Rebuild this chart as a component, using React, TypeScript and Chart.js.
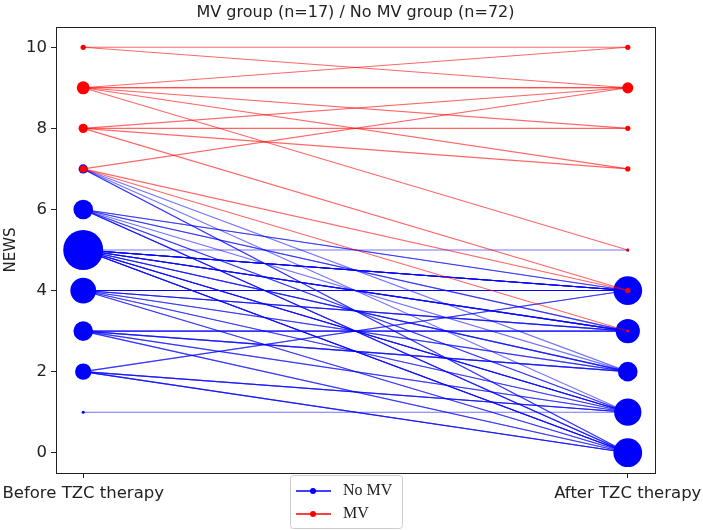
import React, { useEffect, useRef } from "react";
import { Chart, registerables } from "chart.js";
Chart.register(...registerables);

const TITLE = "MV group (n=17) / No MV group (n=72)";
const Y_LABEL = "NEWS";
const X_CATEGORIES = ["Before TZC therapy", "After TZC therapy"];
const Y_TICKS = [0, 2, 4, 6, 8, 10];
const GROUP_LABELS = ["No MV", "MV"];

// No MV group: score before -> score after, number of patients
const NO_MV_BEFORE = [7, 7, 7, 6, 6, 6, 6, 6, 5, 5, 5, 5, 5, 5, 4, 4, 4, 4, 4, 3, 3, 3, 3, 2, 2, 2, 1];
const NO_MV_AFTER = [2, 1, 0, 4, 3, 2, 1, 0, 5, 4, 3, 2, 1, 0, 4, 3, 2, 1, 0, 3, 2, 1, 0, 4, 1, 0, 1];
const NO_MV_COUNT = [1, 1, 2, 2, 2, 1, 2, 3, 1, 7, 5, 3, 4, 4, 5, 3, 2, 2, 2, 3, 3, 2, 2, 2, 3, 3, 1];

// MV group
const MV_BEFORE = [10, 10, 9, 9, 9, 9, 9, 8, 8, 8, 8, 7, 7, 7];
const MV_AFTER = [10, 9, 10, 9, 8, 7, 5, 9, 8, 7, 4, 9, 4, 3];
const MV_COUNT = [1, 1, 1, 2, 1, 1, 1, 1, 1, 1, 1, 1, 1, 1];

const BLUE_LINE = "rgba(0,0,255,0.55)";
const RED_LINE = "rgba(255,0,0,0.6)";
const BLUE = "#0000ff";
const RED = "#ff0000";
const FONT = "'DejaVu Sans', sans-serif";

function markerRadius(c: number) {
  return 1.5 * Math.pow(c, 0.815);
}

function buildGroup(before: number[], after: number[], count: number[], lineColor: string, color: string, lineOrder: number, markerOrder: number) {
  const sets: any[] = [];
  for (let i = 0; i < before.length; i++) {
    for (let k = 0; k < count[i]; k++) {
      sets.push({
        type: "line",
        data: [
          { x: 0, y: before[i] },
          { x: 1, y: after[i] },
        ],
        borderColor: lineColor,
        borderWidth: 1.1,
        pointRadius: 0,
        pointHoverRadius: 0,
        fill: false,
        order: lineOrder,
      });
    }
  }
  const tally: Record<string, number> = {};
  for (let i = 0; i < before.length; i++) {
    const a = "0|" + before[i];
    const b = "1|" + after[i];
    tally[a] = (tally[a] || 0) + count[i];
    tally[b] = (tally[b] || 0) + count[i];
  }
  const pts: { x: number; y: number }[] = [];
  const radii: number[] = [];
  Object.keys(tally).forEach((key) => {
    const [side, score] = key.split("|").map(Number);
    pts.push({ x: side, y: score });
    radii.push(markerRadius(tally[key]));
  });
  sets.push({
    type: "scatter",
    data: pts,
    backgroundColor: color,
    borderColor: color,
    borderWidth: 0,
    pointRadius: radii,
    pointHoverRadius: radii,
    order: markerOrder,
  });
  return sets;
}

const framePlugin = {
  id: "frame",
  afterDraw(chart: any) {
    const { ctx, chartArea } = chart;
    ctx.save();
    ctx.strokeStyle = "#222";
    ctx.lineWidth = 1;
    ctx.strokeRect(
      Math.round(chartArea.left) + 0.5,
      Math.round(chartArea.top) + 0.5,
      Math.round(chartArea.right - chartArea.left),
      Math.round(chartArea.bottom - chartArea.top)
    );
    // title centred over the plotting area
    ctx.fillStyle = "#222";
    ctx.font = "16px " + FONT;
    ctx.textAlign = "center";
    ctx.textBaseline = "middle";
    ctx.fillText(TITLE, (chartArea.left + chartArea.right) / 2, 12.5);
    ctx.restore();
  },
};

const legendPlugin = {
  id: "boxLegend",
  afterDraw(chart: any) {
    const { ctx } = chart;
    const x = 290, y = 475, w = 112, h = 53;
    ctx.save();
    ctx.fillStyle = "rgba(255,255,255,0.85)";
    ctx.strokeStyle = "#cccccc";
    ctx.lineWidth = 1;
    ctx.beginPath();
    (ctx as any).roundRect(x + 0.5, y + 0.5, w, h, 3);
    ctx.fill();
    ctx.stroke();
    const colors = [BLUE, RED];
    const ys = [491, 514];
    GROUP_LABELS.forEach((label, i) => {
      ctx.strokeStyle = colors[i];
      ctx.lineWidth = 1.5;
      ctx.beginPath();
      ctx.moveTo(296, ys[i]);
      ctx.lineTo(331, ys[i]);
      ctx.stroke();
      ctx.fillStyle = colors[i];
      ctx.beginPath();
      ctx.arc(313, ys[i], 3, 0, Math.PI * 2);
      ctx.fill();
      ctx.fillStyle = "#222";
      ctx.font = "16px 'Liberation Serif', serif";
      ctx.textBaseline = "middle";
      ctx.textAlign = "left";
      ctx.fillText(label, 343, ys[i]);
    });
    ctx.restore();
  },
};

export default function App() {
  const ref = useRef<HTMLCanvasElement | null>(null);
  useEffect(() => {
    if (!ref.current) return;
    const datasets = [
      ...buildGroup(NO_MV_BEFORE, NO_MV_AFTER, NO_MV_COUNT, BLUE_LINE, BLUE, 4, 3),
      ...buildGroup(MV_BEFORE, MV_AFTER, MV_COUNT, RED_LINE, RED, 2, 1),
    ];
    const chart = new Chart(ref.current, {
      type: "line",
      data: { datasets },
      plugins: [framePlugin, legendPlugin],
      options: {
        animation: false,
        responsive: false,
        maintainAspectRatio: false,
        layout: { padding: { left: 0, right: 48, top: 27, bottom: 0 } },
        plugins: {
          legend: { display: false },
          tooltip: { enabled: false },
          title: { display: false },
        },
        scales: {
          x: {
            type: "linear",
            min: -0.05,
            max: 1.05,
            afterBuildTicks: (s: any) => {
              s.ticks = [0, 1].map((v) => ({ value: v }));
            },
            afterFit: (s: any) => {
              s.height = 57;
              s.paddingLeft = 0;
              s.paddingRight = 0;
            },
            ticks: {
              autoSkip: false,
              maxRotation: 0,
              color: "#222",
              padding: 6,
              font: { family: FONT, size: 16.5 },
              callback: (v: any) => X_CATEGORIES[v as number] ?? "",
            },
            grid: { drawOnChartArea: false, drawTicks: true, tickLength: 5, color: "#222" },
            border: { display: true, color: "#222" },
          },
          y: {
            type: "linear",
            min: -0.5,
            max: 10.5,
            afterBuildTicks: (s: any) => {
              s.ticks = Y_TICKS.map((v) => ({ value: v }));
            },
            afterFit: (s: any) => {
              s.width = 56;
            },
            ticks: {
              color: "#222",
              padding: 4,
              font: { family: FONT, size: 16.5 },
            },
            title: {
              display: true,
              text: Y_LABEL,
              color: "#222",
              font: { family: FONT, size: 15 },
              padding: { top: 2, bottom: 0 },
            },
            grid: { drawOnChartArea: false, drawTicks: true, tickLength: 5, color: "#222" },
            border: { display: true, color: "#222" },
          },
        },
      },
    } as any);
    return () => chart.destroy();
  }, []);
  return (
    <>
      <style>{`body{margin:0}`}</style>
      <canvas ref={ref} width={703} height={530} style={{ display: "block" }} />
    </>
  );
}
